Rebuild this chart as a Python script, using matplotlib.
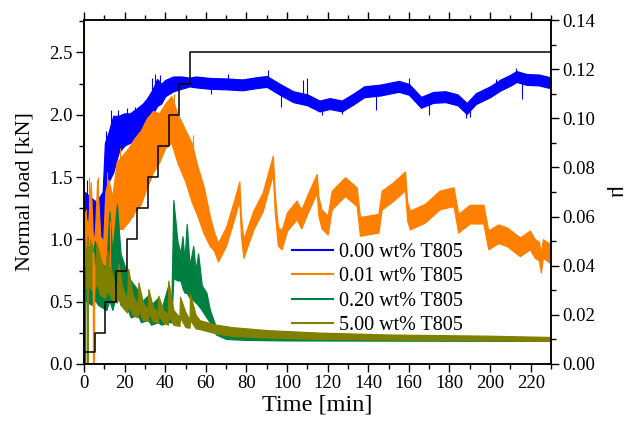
import numpy as np
import matplotlib
matplotlib.use('Agg')
import matplotlib.pyplot as plt
from matplotlib.lines import Line2D
from matplotlib.ticker import MultipleLocator

plt.rcParams['font.family'] = ['Liberation Serif', 'DejaVu Serif']

# applied load steps (kN), left axis
load_t = [0, 5.4, 10.4, 15.8, 21.0, 26.2, 31.5, 36.6, 41.8, 47.0, 52.4, 230]
load_kn = [0.1, 0.25, 0.5, 0.75, 1.0, 1.25, 1.5, 1.75, 2.0, 2.25, 2.5, 2.5]

# 0.00 wt% : early envelope (t, lo, hi) then centre line
blue_early_t = [0.3, 3, 6, 9.2, 10.3, 12, 14.4, 17, 20, 22.6, 26, 29, 31, 34, 36, 38, 40, 44, 48, 52]
blue_early_lo = [0.049, 0.050, 0.048, 0.048, 0.070, 0.074, 0.078, 0.086, 0.089, 0.090, 0.092,
                 0.094, 0.097, 0.102, 0.105, 0.106, 0.109, 0.111, 0.112, 0.113]
blue_early_hi = [0.070, 0.068, 0.066, 0.070, 0.090, 0.094, 0.101, 0.101, 0.102, 0.102, 0.104,
                 0.106, 0.108, 0.112, 0.116, 0.114, 0.1156, 0.117, 0.117, 0.1165]
blue_t = [55, 62, 70, 78, 85, 90, 96, 103, 110, 116, 121, 127, 133, 138, 146, 155, 160, 166,
          172, 178, 184, 188.5, 193, 200, 205, 210, 213, 218, 224, 229.5]
blue_mu = [0.1148, 0.1142, 0.1140, 0.1136, 0.1145, 0.1150, 0.1120, 0.1088, 0.1075, 0.1050,
           0.1060, 0.1050, 0.1080, 0.1108, 0.1115, 0.1130, 0.1118, 0.1065, 0.1085, 0.1088,
           0.1075, 0.1040, 0.1080, 0.1108, 0.1135, 0.1155, 0.1170, 0.1158, 0.1156, 0.1145]
# single spikes (t, base, tip)
blue_spk_t = [1.5, 11, 13.5, 16.5, 21, 25, 33.5, 35, 37.5, 42.5, 62.5, 63.5, 71, 90.6, 97, 108,
              110, 117, 127, 144, 160, 170, 188, 190, 203, 213, 215.5]
blue_spk_base = [0.062, 0.082, 0.090, 0.094, 0.096, 0.098, 0.106, 0.110, 0.110, 0.112, 0.1142,
                 0.114, 0.114, 0.115, 0.112, 0.108, 0.1075, 0.105, 0.105, 0.111, 0.112, 0.108,
                 0.104, 0.105, 0.112, 0.117, 0.116]
blue_spk_tip = [0.075, 0.095, 0.1035, 0.1035, 0.104, 0.1045, 0.1165, 0.118, 0.1175, 0.116, 0.110,
                0.1164, 0.118, 0.1197, 0.1046, 0.1156, 0.1164, 0.1013, 0.1018, 0.1034, 0.1165,
                0.1013, 0.100, 0.1005, 0.116, 0.1205, 0.108]

# 0.01 wt%
orange_early_t = [0.3, 2, 3.3, 4.5, 5.5, 6.5, 8, 9.5, 10.5, 12, 14, 16, 19, 22, 25, 28, 31,
                  34, 37, 40, 43, 46, 50, 53, 56, 59, 62]
orange_early_lo = [0.035, 0.036, 0.034, 0.036, 0.035, 0.038, 0.037, 0.036, 0.040, 0.042, 0.045,
                   0.055, 0.055, 0.058, 0.062, 0.065, 0.072, 0.078, 0.082, 0.088, 0.090, 0.082,
                   0.074, 0.066, 0.060, 0.053, 0.048]
orange_early_hi = [0.062, 0.056, 0.074, 0.048, 0.055, 0.075, 0.052, 0.050, 0.070, 0.075, 0.068,
                   0.082, 0.085, 0.088, 0.092, 0.095, 0.100, 0.103, 0.102, 0.106, 0.109, 0.102,
                   0.095, 0.090, 0.080, 0.072, 0.060]
orange_t = [64, 66, 70, 74, 76.5, 77.3, 78.5, 83.4, 88, 93, 94, 95.5, 97.3, 100, 104.7, 107,
            110, 114.6, 115.5, 117, 120, 122, 128.5, 134.3, 135.9, 145, 146.6, 152, 158.1,
            159.2, 160.5, 168, 175, 182, 184.3, 190, 196.7, 199.1, 204, 208.2, 214.7, 217,
            219.6, 222, 224, 225, 226, 229.5]
orange_mu = [0.0500, 0.0455, 0.0520, 0.0630, 0.0705, 0.0560, 0.0470, 0.0586, 0.0660, 0.0810,
             0.0650, 0.0520, 0.0505, 0.0580, 0.0627, 0.0590, 0.0650, 0.0735, 0.0640, 0.0590,
             0.0565, 0.0667, 0.0722, 0.0681, 0.0560, 0.0573, 0.0667, 0.0700, 0.0745, 0.0620,
             0.0586, 0.0614, 0.0667, 0.0681, 0.0573, 0.0610, 0.0610, 0.0505, 0.0530, 0.0518,
             0.0477, 0.0490, 0.0505, 0.0470, 0.0460, 0.0410, 0.0470, 0.0450]
orange_spk_t = [1.0, 2.6, 7.0, 11.5, 13.0, 17.5, 24.0, 29.5, 44.5, 53.5]
orange_spk_base = [0.048, 0.048, 0.048, 0.056, 0.058, 0.070, 0.078, 0.085, 0.100, 0.080]
orange_spk_tip = [0.063, 0.076, 0.076, 0.078, 0.040, 0.088, 0.060, 0.098, 0.110, 0.093]

# 0.20 wt%
green_t = [0.3, 2, 4, 5.4, 7, 9, 11, 12.5, 14, 16.2, 18, 21.6, 23, 26.6, 28, 31.6, 33, 36.5,
           38, 41.5, 43, 44, 46, 47.5, 48.5, 49.5, 50.6, 52, 53.8, 55, 56.2, 58, 60.3, 62, 65,
           70, 80, 100, 230]
green_lo = [0.026, 0.025, 0.024, 0.026, 0.024, 0.023, 0.022, 0.026, 0.022, 0.030, 0.024, 0.022,
            0.019, 0.020, 0.017, 0.018, 0.016, 0.017, 0.016, 0.017, 0.017, 0.035, 0.034, 0.034,
            0.031, 0.029, 0.029, 0.027, 0.026, 0.025, 0.024, 0.022, 0.019, 0.017, 0.012, 0.0102,
            0.0098, 0.0096, 0.0094]
green_hi = [0.050, 0.046, 0.044, 0.050, 0.042, 0.040, 0.040, 0.062, 0.045, 0.065, 0.045, 0.036,
            0.034, 0.030, 0.025, 0.028, 0.024, 0.027, 0.022, 0.032, 0.022, 0.0667, 0.050, 0.045,
            0.052, 0.042, 0.057, 0.040, 0.048, 0.038, 0.045, 0.032, 0.029, 0.022, 0.015, 0.0120,
            0.0112, 0.0108, 0.0106]

# 5.00 wt%
olive_t = [0.3, 2, 4, 5.4, 6.3, 8, 10.4, 11.6, 14, 16.2, 16.9, 19, 21.2, 21.8, 24, 26.4, 26.8,
           29, 31.4, 31.7, 34, 36.3, 36.6, 39, 41.3, 41.5, 44, 47.0, 47.3, 50, 52.0, 52.2, 55,
           57, 65, 73, 90, 115, 150, 200, 229.5]
olive_lo = [0.030, 0.032, 0.030, 0.031, 0.033, 0.028, 0.027, 0.030, 0.026, 0.025, 0.027, 0.023,
            0.021, 0.024, 0.020, 0.019, 0.022, 0.018, 0.0175, 0.021, 0.0175, 0.017, 0.020,
            0.017, 0.016, 0.020, 0.016, 0.0155, 0.019, 0.015, 0.0148, 0.018, 0.0145, 0.0142,
            0.0125, 0.0114, 0.0108, 0.0102, 0.0100, 0.0096, 0.0094]
olive_hi = [0.050, 0.052, 0.048, 0.040, 0.049, 0.043, 0.038, 0.046, 0.036, 0.030, 0.0407, 0.031,
            0.026, 0.0387, 0.028, 0.024, 0.0332, 0.025, 0.022, 0.0305, 0.023, 0.021, 0.0278,
            0.022, 0.020, 0.0339, 0.022, 0.019, 0.0273, 0.021, 0.018, 0.0285, 0.020, 0.0178,
            0.0160, 0.0150, 0.0138, 0.0128, 0.0120, 0.0115, 0.0110]

# sharp drops at the start (t, mu)
olive_drop_t = [0.05, 0.05, 0.1, 0.1, 1.8, 1.8, 2.0]
olive_drop_mu = [0.0, 0.14, 0.14, 0.04, 0.04, 0.0, 0.035]
green_drop_t = [0.6, 0.6, 0.8]
green_drop_mu = [0.04, 0.0, 0.03]
orange_drop_t = [4.6, 4.8, 5.0, 5.2]
orange_drop_mu = [0.045, 0.0, 0.0, 0.040]

labels = ['0.00 wt% T805', '0.01 wt% T805', '0.20 wt% T805', '5.00 wt% T805']
colors = ['#0000ff', '#ff8000', '#008040', '#808000']

fig = plt.figure(figsize=(6.31, 4.28), dpi=100)
ax = fig.add_axes([84 / 631, 1 - 364 / 428, 467 / 631, 344 / 428])
ax2 = ax.twinx()

w_blue = 0.0022
w_orange = 0.0038
bt = np.r_[blue_early_t, blue_t]
blo = np.r_[blue_early_lo, np.array(blue_mu) - w_blue]
bhi = np.r_[blue_early_hi, np.array(blue_mu) + w_blue]
ot = np.r_[orange_early_t, orange_t]
olo = np.r_[orange_early_lo, np.array(orange_mu) - w_orange]
ohi = np.r_[orange_early_hi, np.array(orange_mu) + w_orange]

series = [(bt, blo, bhi), (ot, olo, ohi), (green_t, green_lo, green_hi),
          (olive_t, olive_lo, olive_hi)]
spikes = {0: (blue_spk_t, blue_spk_base, blue_spk_tip),
          1: (orange_spk_t, orange_spk_base, orange_spk_tip)}
for i, ((t, lo, hi), c) in enumerate(zip(series, colors)):
    ax2.fill_between(t, lo, hi, color=c, lw=0.9, edgecolor=c)
    if i in spikes:
        st, sb, sp = spikes[i]
        ax2.vlines(st, sb, sp, color=c, lw=0.8)
ax2.plot(orange_drop_t, orange_drop_mu, color=colors[1], lw=1.2)
ax2.plot(green_drop_t, green_drop_mu, color=colors[2], lw=1.2)
ax2.plot(olive_drop_t, olive_drop_mu, color=colors[3], lw=1.2)

ax2.set_zorder(1)
ax.set_zorder(2)
ax.patch.set_visible(False)
ax.step(load_t, load_kn, where='post', color='black', lw=1.1)

ax.set_xlim(0, 230)
ax.set_ylim(0, 2.76)
ax2.set_ylim(0, 0.14)

ax.xaxis.set_major_locator(MultipleLocator(20))
ax.xaxis.set_minor_locator(MultipleLocator(10))
ax.yaxis.set_major_locator(MultipleLocator(0.5))
ax.yaxis.set_minor_locator(MultipleLocator(0.25))
ax2.yaxis.set_major_locator(MultipleLocator(0.02))
ax2.yaxis.set_minor_locator(MultipleLocator(0.01))
ax.yaxis.set_major_formatter(plt.FormatStrFormatter('%.1f'))
ax2.yaxis.set_major_formatter(plt.FormatStrFormatter('%.2f'))

ax.tick_params(axis='x', which='both', direction='out', top=True, labelsize=13.5, pad=2)
ax.tick_params(axis='y', which='both', direction='out', labelsize=13.5, pad=2)
ax2.tick_params(axis='y', which='both', direction='out', labelsize=13.5, pad=2)
for a in (ax, ax2):
    a.tick_params(which='major', length=6, width=1)
    a.tick_params(which='minor', length=3.5, width=1)
    for s in a.spines.values():
        s.set_linewidth(1.1)

ax.set_xlabel('Time [min]', fontsize=17.5, labelpad=2)
ax.set_ylabel('Normal load [kN]', fontsize=16, labelpad=11)
ax2.set_ylabel('μ', fontsize=17, rotation=270, labelpad=22)

handles = [Line2D([], [], color=c, lw=1.5) for c in colors]
ax.legend(handles, labels, loc='upper left', bbox_to_anchor=(0.445, 0.352),
          frameon=False, fontsize=14.5, handlelength=2.05, handletextpad=0.28,
          labelspacing=0.26, borderpad=0, borderaxespad=0)

fig.savefig('out.png', dpi=100)
